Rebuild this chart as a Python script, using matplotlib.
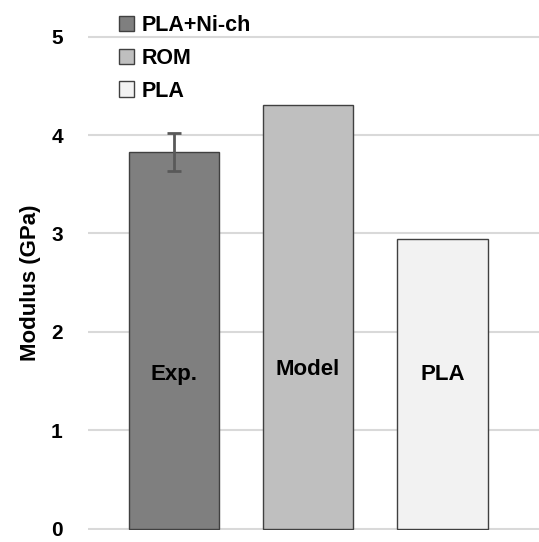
import matplotlib
matplotlib.use('Agg')
import matplotlib.pyplot as plt
from matplotlib.patches import Patch

plt.rcParams['font.family'] = ['Liberation Sans', 'DejaVu Sans']

categories = ['Exp.', 'Model', 'PLA']
legend_names = ['PLA+Ni-ch', 'ROM', 'PLA']
values = [3.83, 4.31, 2.94]
errors = [0.19, 0, 0]
label_y = [1.57, 1.62, 1.57]
colors = ['#7f7f7f', '#bfbfbf', '#f2f2f2']
yticks = [0, 1, 2, 3, 4, 5]

fig = plt.figure(figsize=(5.39, 5.42), dpi=100)
ax = fig.add_axes([0.163, 0.022, 0.837, 0.913])

x = range(len(categories))
ax.bar(x, values, width=0.674, color=colors, edgecolor='#404040', linewidth=1, zorder=3)
ax.errorbar([0], [values[0]], yerr=[errors[0]], fmt='none', ecolor='#595959',
            elinewidth=2, capsize=5, capthick=2, zorder=4)

for i, name in enumerate(categories):
  ax.text(i, label_y[i], name, ha='center', va='center', fontsize=16, fontweight='bold', zorder=5)

ax.set_xlim(-0.64, 2.72)
ax.set_ylim(-0.015, 5.015)
ax.set_yticks(yticks)
ax.set_yticklabels([str(t) for t in yticks], fontsize=15, fontweight='bold')
ax.tick_params(axis='y', length=0, pad=18)
ax.set_xticks([])
ax.yaxis.grid(True, color='#d9d9d9', linewidth=1.5, zorder=0)
for s in ax.spines.values():
  s.set_visible(False)
ax.set_ylabel('Modulus (GPa)', fontsize=16, fontweight='bold', labelpad=7)

handles = [Patch(facecolor=c, edgecolor='#404040') for c in colors]
leg = ax.legend(handles, legend_names, loc='upper left', bbox_to_anchor=(0.026, 1.08),
                frameon=False, prop={'size': 15.5, 'weight': 'bold'},
                handlelength=0.72, handleheight=0.72, handletextpad=0.35, labelspacing=0.55)

fig.savefig('out.png', dpi=100)
